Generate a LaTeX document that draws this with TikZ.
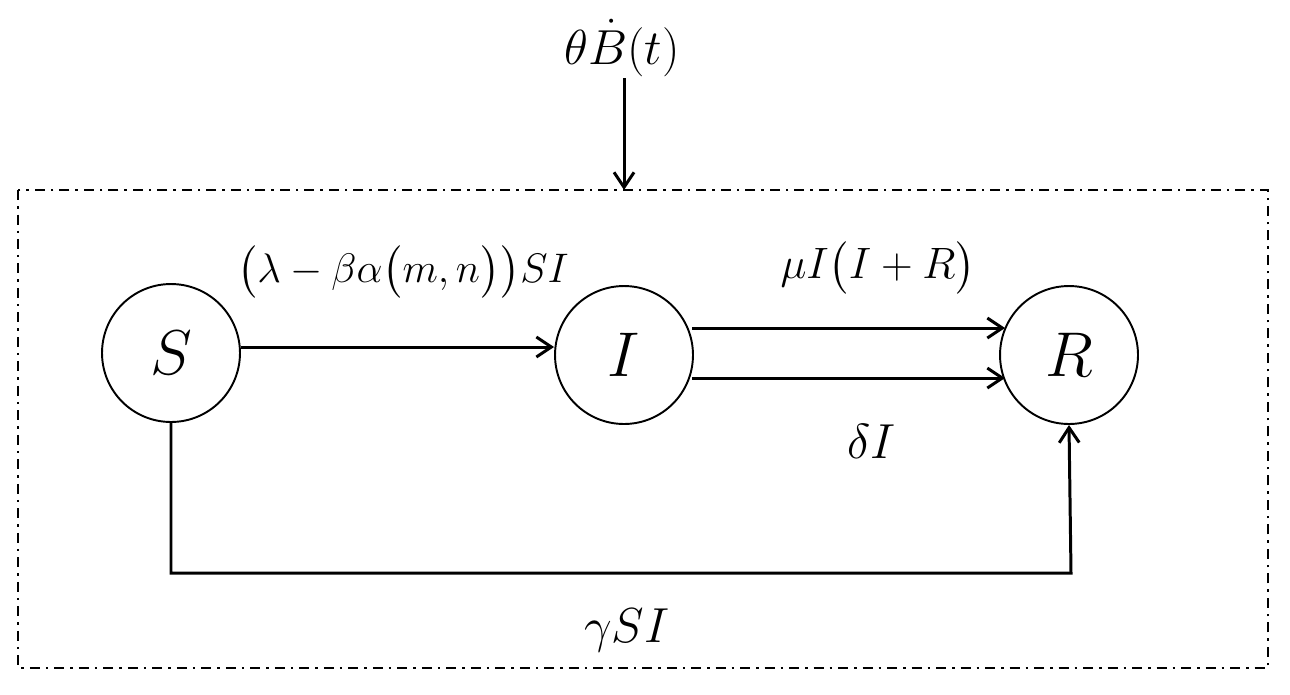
\RequirePackage{fix-cm}
\documentclass[tikz,border=0pt]{standalone}
\usepackage{amsmath}
\usetikzlibrary{arrows.meta}
\begin{document}
\begin{tikzpicture}[x=0.02cm,y=-0.02cm,
  state/.style={circle,draw,line width=1.1pt,minimum size=2.76cm,inner sep=0pt,font=\fontsize{36}{40}\selectfont},
  flow/.style={line width=1.7pt,-{Straight Barb[length=0.3cm,width=0.4cm,line width=1.7pt]}},
  lab/.style={font=\fontsize{25}{30}\selectfont},
  frame/.style={line width=1.1pt,dash pattern=on 0.2cm off 0.12cm on 0.05cm off 0.12cm}]
\useasboundingbox (0,0) rectangle (1290,694);
\draw[frame] (18,190) rectangle (1268,668);
\node[state] (S) at (171,353) {$S$};
\node[state] (I) at (624,355) {$I$};
\node[state] (R) at (1069,355) {$R$};
\node[lab,font=\fontsize{28}{32}\selectfont] (theta) at (622,48) {$\theta\dot{B}(t)$};
\coordinate (top) at (624,190);
\draw[flow] (624,78) -- (top);
\draw[flow] (S.east |- 0,347) -- (I.west |- 0,347);
\draw[flow] (692,328) -- (1005,328);
\draw[flow] (692,378) -- (1005,378);
\coordinate (c1) at (171,573);
\coordinate (c2) at (1071,573);
\draw[flow] (S.south) -- (c1) -- (c2) -- (R.south);
\node[lab,font=\fontsize{23.5}{28}\selectfont] (l1) at (403,272) {$\bigl(\lambda-\beta\alpha\bigl(m,n\bigr)\bigr)SI$};
\node[lab] (l2) at (878,268) {$\mu I\bigl(I+R\bigr)$};
\node[lab,font=\fontsize{28}{32}\selectfont] (l3) at (872,441) {$\delta I$};
\node[lab,font=\fontsize{28}{32}\selectfont] (l4) at (627,630) {$\gamma SI$};
\end{tikzpicture}
\end{document}
